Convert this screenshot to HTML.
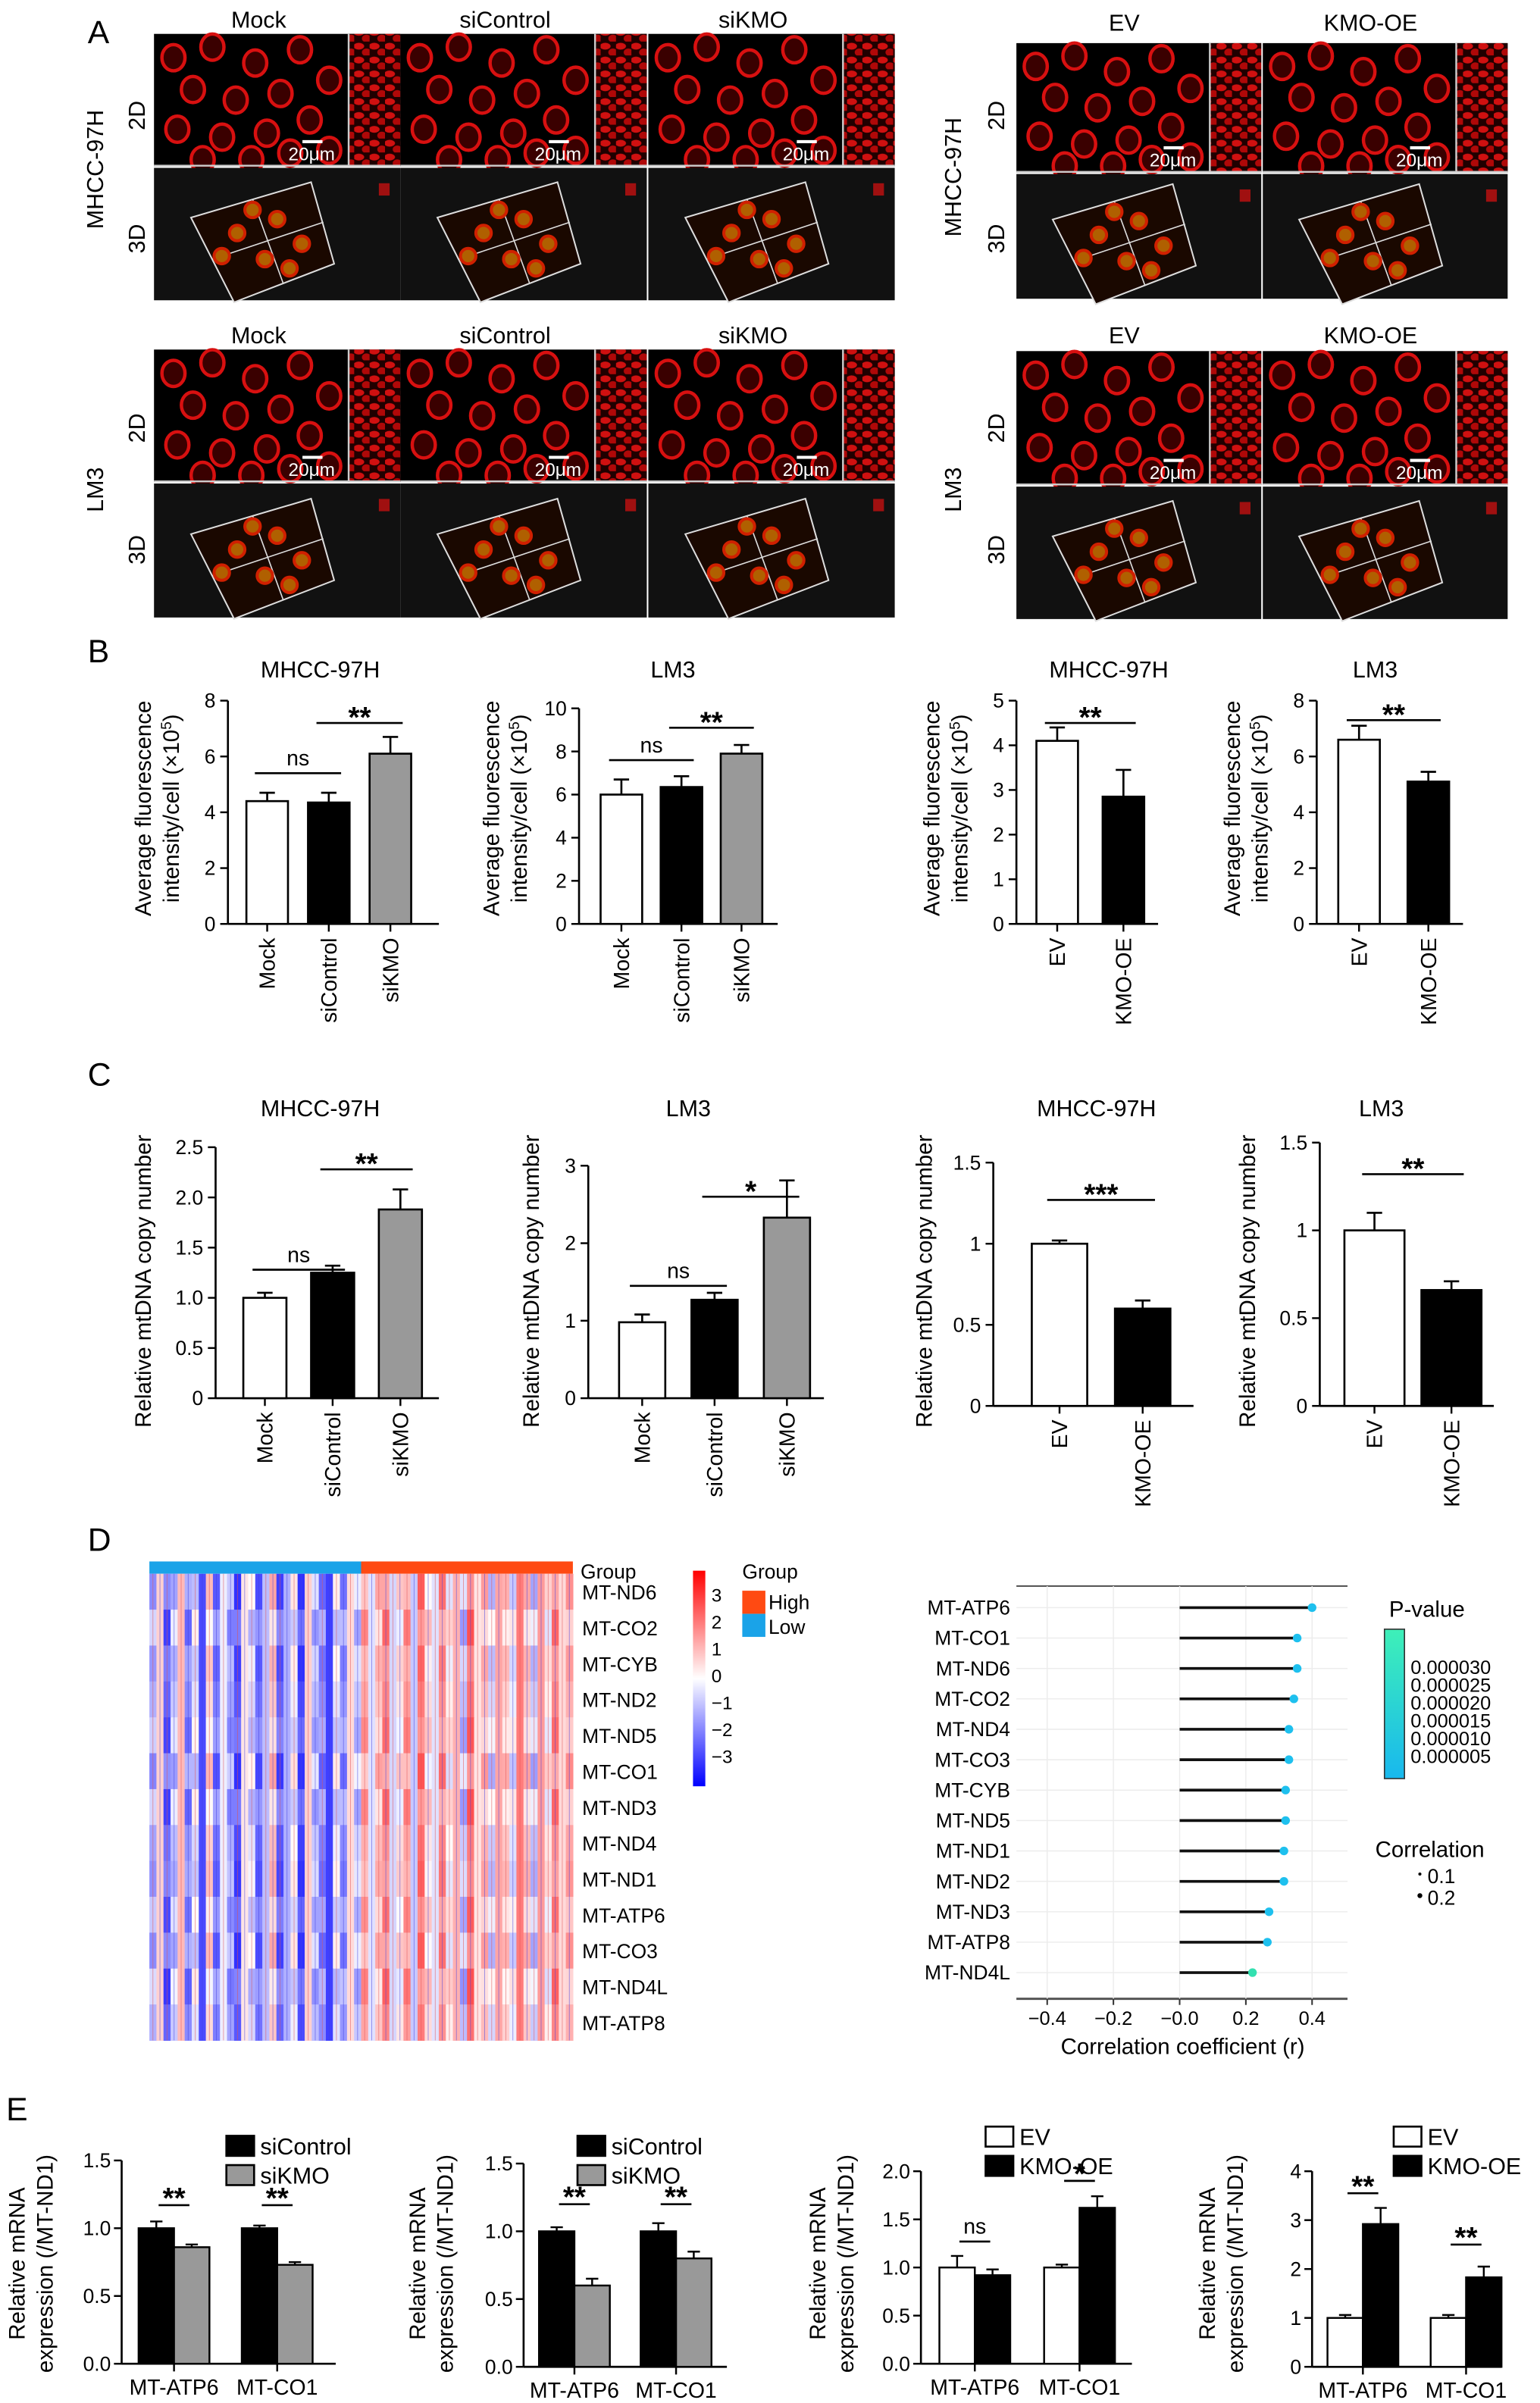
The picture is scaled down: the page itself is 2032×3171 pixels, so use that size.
<!DOCTYPE html>
<html><head><meta charset="utf-8"><style>
html,body{margin:0;padding:0;background:#fff}
svg{display:block}
text{font-family:"Liberation Sans",Arial,sans-serif;fill:#000}
</style></head><body>
<svg id="fig" xmlns="http://www.w3.org/2000/svg" width="2032" height="3171" viewBox="0 0 1000 1560.5" preserveAspectRatio="none">
<defs>
<pattern id="strip" width="10" height="9" patternUnits="userSpaceOnUse">
<rect width="10" height="9" fill="#200000"/>
<ellipse cx="3" cy="3" rx="3.5" ry="2.2" fill="#d01010"/>
<ellipse cx="8" cy="7" rx="3" ry="2.5" fill="#b00808"/>
</pattern>
</defs>
<g id="panelA"></g>
<g id="charts"></g>
<g id="panelD"></g>
<text x="57" y="28" font-size="21">A</text>
<text x="57" y="430" font-size="21">B</text>
<text x="57" y="705" font-size="21">C</text>
<text x="57" y="1007" font-size="21">D</text>
<text x="4" y="1377" font-size="21">E</text>
</svg>
<script>
const NS="http://www.w3.org/2000/svg";
function mk(tag,attrs,parent,txt){const e=document.createElementNS(NS,tag);for(const k in attrs)e.setAttribute(k,attrs[k]);if(txt!==undefined)e.textContent=txt;parent.appendChild(e);return e;}

// ---------- Panel B data ----------
const bCatsSi=["Mock","siControl","siKMO"];
const bCatsOe=["EV","KMO-OE"];
const bMhccSiVals=[4.4,4.35,6.1];
const bMhccSiErr=[0.3,0.35,0.6];
const bLm3SiVals=[6.0,6.35,7.9];
const bLm3SiErr=[0.7,0.5,0.4];
const bMhccOeVals=[4.1,2.85];
const bMhccOeErr=[0.3,0.6];
const bLm3OeVals=[6.6,5.1];
const bLm3OeErr=[0.5,0.35];
const bTicksMhccSi=[0,2,4,6,8];
const bTicksLm3Si=[0,2,4,6,8,10];
const bTicksMhccOe=[0,1,2,3,4,5];
const bTicksLm3Oe=[0,2,4,6,8];
// ---------- Panel C data ----------
const cMhccSiVals=[1.0,1.25,1.88];
const cMhccSiErr=[0.05,0.07,0.2];
const cLm3SiVals=[0.98,1.27,2.33];
const cLm3SiErr=[0.1,0.09,0.48];
const cMhccOeVals=[1.0,0.6];
const cMhccOeErr=[0.02,0.05];
const cLm3OeVals=[1.0,0.66];
const cLm3OeErr=[0.1,0.05];
const cTicksMhccSi=[0,0.5,1.0,1.5,2.0,2.5];
const cTickLabMhccSi=["0","0.5","1.0","1.5","2.0","2.5"];
const cTicksLm3Si=[0,1,2,3];
const cTicksOe=[0,0.5,1,1.5];
const cTickLabOe=["0","0.5","1","1.5"];
// ---------- Panel E data ----------
const eGenes=["MT-ATP6","MT-CO1"];
const eMhccSiA=[1.0,1.0];   const eMhccSiAErr=[0.05,0.02];
const eMhccSiB=[0.86,0.73]; const eMhccSiBErr=[0.02,0.02];
const eLm3SiA=[1.0,1.0];    const eLm3SiAErr=[0.03,0.06];
const eLm3SiB=[0.6,0.8];    const eLm3SiBErr=[0.05,0.05];
const eMhccOeA=[1.0,1.0];   const eMhccOeAErr=[0.12,0.03];
const eMhccOeB=[0.92,1.62]; const eMhccOeBErr=[0.06,0.12];
const eLm3OeA=[1.0,1.0];    const eLm3OeAErr=[0.06,0.06];
const eLm3OeB=[2.92,1.83];  const eLm3OeBErr=[0.33,0.22];
const eTicks15=[0,0.5,1.0,1.5]; const eTickLab15=["0.0","0.5","1.0","1.5"];
const eTicks20=[0,0.5,1.0,1.5,2.0]; const eTickLab20=["0.0","0.5","1.0","1.5","2.0"];
const eTicks4=[0,1,2,3,4];
// ---------- Panel D data ----------
const corrGenes=["MT-ATP6","MT-CO1","MT-ND6","MT-CO2","MT-ND4","MT-CO3","MT-CYB","MT-ND5","MT-ND1","MT-ND2","MT-ND3","MT-ATP8","MT-ND4L"];
const corrVals=[0.40,0.355,0.355,0.345,0.33,0.33,0.32,0.32,0.315,0.315,0.27,0.265,0.22];
const corrTicks=[-0.4,-0.2,0.0,0.2,0.4];
const corrTickLab=["−0.4","−0.2","−0.0","0.2","0.4"];
const heatGenes=["MT-ND6","MT-CO2","MT-CYB","MT-ND2","MT-ND5","MT-CO1","MT-ND3","MT-ND4","MT-ND1","MT-ATP6","MT-CO3","MT-ND4L","MT-ATP8"];
const heatColVals=[-0.6,0.4,-1.2,-0.4,0.6,-0.9,-0.2,-1.4,0.3,-1.0,-0.1,-0.7,-1.3,0.2,-0.3,-1.1,-0.5,0.5,-1.2,-0.6,-0.1,-1.4,0.4,-0.5,-0.9,-1.5,-0.2,-0.8,0.3,-0.4,0.8,-0.2,0.5,1.1,-0.3,0.2,0.9,-0.4,1.2,0.3,-0.2,1.0,0.1,0.7,-0.5,1.3,0.2,0.6,-0.3,0.8,0.4,-0.1,1.2,0.5,-0.4,0.9,0.1,1.1,0.3,0.7];
const heatRowShift=[0.3,-0.3,0.2,0.0,-0.25,0.35,-0.3,0.1,0.25,-0.2,0.3,-0.35,0.0];

const root=document.getElementById('charts');

function ylabel(g,x,yc,lines,fs){lines.forEach((l,i)=>{const t=mk('text',{x:0,y:0,'font-size':fs,'text-anchor':'middle',transform:`translate(${x+i*fs*1.25},${yc}) rotate(-90)`},g);
if(l.includes('^')){const p=l.split('^');t.appendChild(document.createTextNode(p[0]));mk('tspan',{'baseline-shift':'super','font-size':fs*0.65},t,p[1]);t.appendChild(document.createTextNode(p[2]||''));}else t.textContent=l;
});}

function barChart(o){
  const g=mk('g',{},root);
  
  const sy=v=>o.y0-(v/o.max)*(o.y0-o.yTop);
  mk('line',{x1:o.ax,y1:o.y0,x2:o.ax,y2:sy(o.max),stroke:'#000','stroke-width':1.3},g);
  mk('line',{x1:o.ax,y1:o.y0,x2:o.xEnd,y2:o.y0,stroke:'#000','stroke-width':1.3},g);
  o.ticks.forEach((t,i)=>{const y=sy(t);mk('line',{x1:o.ax-5,y1:y,x2:o.ax,y2:y,stroke:'#000','stroke-width':1.2},g);
    const tl=mk('text',{x:o.ax-8,y:y+4.5,'font-size':13,'text-anchor':'end'},g,o.tickLab?o.tickLab[i]:String(t));
    });
  const cx=[];
  o.vals.forEach((v,i)=>{const x=o.x0+i*o.step;const c=x+o.bw/2;cx.push(c);
    const r=mk('rect',{x:x,y:sy(v),width:o.bw,height:o.y0-sy(v),fill:o.fills[i],stroke:'#000','stroke-width':1.3},g);
    
    const ye=sy(v+o.err[i]);mk('line',{x1:c,y1:sy(v),x2:c,y2:ye,stroke:'#000','stroke-width':1.3},g);
    mk('line',{x1:c-5,y1:ye,x2:c+5,y2:ye,stroke:'#000','stroke-width':1.3},g);
    mk('line',{x1:c,y1:o.y0,x2:c,y2:o.y0+5,stroke:'#000','stroke-width':1.2},g);
    const t=mk('text',{x:0,y:0,'font-size':14,'text-anchor':'end',transform:`translate(${c+5},${o.y0+9}) rotate(-90)`},g,o.cats[i]);
    });
  (o.sig||[]).forEach(s=>{const y=sy(s.v);const x1=cx[s.i]-8,x2=cx[s.j]+8;
    mk('line',{x1:x1,y1:y,x2:x2,y2:y,stroke:'#000','stroke-width':1.3},g);
    const t=mk('text',{x:(x1+x2)/2,y:s.l==='ns'?y-5:y+3,'font-size':s.l==='ns'?14:19,'text-anchor':'middle','font-weight':s.l==='ns'?'normal':'bold'},g,s.l);
    });
  const tt=mk('text',{x:o.tx,y:o.ty,'font-size':15,'text-anchor':'middle'},g,o.title);
  
  ylabel(g,o.ylx,o.ylc,o.yl,14.5);
}
const W='#fff',K='#000',G='#999';
const ylB=["Average fluorescence","intensity/cell (×10^5^)"];
barChart({name:'chart-b-mhcc-si',ax:148,y0:600,yTop:455,max:8,ticks:bTicksMhccSi,xEnd:285,x0:160,step:40,bw:27,vals:bMhccSiVals,err:bMhccSiErr,fills:[W,K,G],cats:bCatsSi,title:'MHCC-97H',tx:208,ty:440,ylx:98,ylc:525,yl:ylB,sig:[{i:0,j:1,v:5.4,l:'ns'},{i:1,j:2,v:7.2,l:'**'}]});
barChart({name:'chart-b-lm3-si',ax:376,y0:600,yTop:460,max:10,ticks:bTicksLm3Si,xEnd:505,x0:390,step:39,bw:27,vals:bLm3SiVals,err:bLm3SiErr,fills:[W,K,G],cats:bCatsSi,title:'LM3',tx:437,ty:440,ylx:324,ylc:525,yl:ylB,sig:[{i:0,j:1,v:7.6,l:'ns'},{i:1,j:2,v:9.1,l:'**'}]});
barChart({name:'chart-b-mhcc-oe',ax:660,y0:600,yTop:455,max:5,ticks:bTicksMhccOe,xEnd:752,x0:673,step:43,bw:27,vals:bMhccOeVals,err:bMhccOeErr,fills:[W,K],cats:bCatsOe,title:'MHCC-97H',tx:720,ty:440,ylx:610,ylc:525,yl:ylB,sig:[{i:0,j:1,v:4.5,l:'**'}]});
barChart({name:'chart-b-lm3-oe',ax:855,y0:600,yTop:455,max:8,ticks:bTicksLm3Oe,xEnd:950,x0:869,step:45,bw:27,vals:bLm3OeVals,err:bLm3OeErr,fills:[W,K],cats:bCatsOe,title:'LM3',tx:893,ty:440,ylx:805,ylc:525,yl:ylB,sig:[{i:0,j:1,v:7.3,l:'**'}]});
const ylC=["Relative mtDNA copy number"];
barChart({name:'chart-c-mhcc-si',ax:140,y0:908,yTop:745,max:2.5,ticks:cTicksMhccSi,tickLab:cTickLabMhccSi,xEnd:285,x0:158,step:44,bw:28,vals:cMhccSiVals,err:cMhccSiErr,fills:[W,K,G],cats:bCatsSi,title:'MHCC-97H',tx:208,ty:725,ylx:98,ylc:832,yl:ylC,sig:[{i:0,j:1,v:1.28,l:'ns'},{i:1,j:2,v:2.28,l:'**'}]});
barChart({name:'chart-c-lm3-si',ax:382,y0:908,yTop:757,max:3,ticks:cTicksLm3Si,xEnd:535,x0:402,step:47,bw:30,vals:cLm3SiVals,err:cLm3SiErr,fills:[W,K,G],cats:bCatsSi,title:'LM3',tx:447,ty:725,ylx:350,ylc:832,yl:ylC,sig:[{i:0,j:1,v:1.45,l:'ns'},{i:1,j:2,v:2.6,l:'*'}]});
barChart({name:'chart-c-mhcc-oe',ax:645,y0:913,yTop:755,max:1.5,ticks:cTicksOe,tickLab:cTickLabOe,xEnd:775,x0:670,step:54,bw:36,vals:cMhccOeVals,err:cMhccOeErr,fills:[W,K],cats:bCatsOe,title:'MHCC-97H',tx:712,ty:725,ylx:605,ylc:832,yl:ylC,sig:[{i:0,j:1,v:1.27,l:'***'}]});
barChart({name:'chart-c-lm3-oe',ax:857,y0:913,yTop:742,max:1.5,ticks:cTicksOe,tickLab:cTickLabOe,xEnd:970,x0:873,step:50,bw:39,vals:cLm3OeVals,err:cLm3OeErr,fills:[W,K],cats:bCatsOe,title:'LM3',tx:897,ty:725,ylx:815,ylc:832,yl:ylC,sig:[{i:0,j:1,v:1.32,l:'**'}]});

function groupChart(o){
  const g=mk('g',{},root);
  
  const sy=v=>o.y0-(v/o.max)*(o.y0-o.yTop);
  mk('line',{x1:o.ax,y1:o.y0,x2:o.ax,y2:sy(o.max),stroke:'#000','stroke-width':1.3},g);
  mk('line',{x1:o.ax,y1:o.y0,x2:o.xEnd,y2:o.y0,stroke:'#000','stroke-width':1.3},g);
  o.ticks.forEach((t,i)=>{const y=sy(t);mk('line',{x1:o.ax-5,y1:y,x2:o.ax,y2:y,stroke:'#000','stroke-width':1.2},g);
    const tl=mk('text',{x:o.ax-7,y:y+4.5,'font-size':13,'text-anchor':'end'},g,o.tickLab?o.tickLab[i]:String(t));
    });
  eGenes.forEach((gn,i)=>{const gx=o.x0+i*o.gstep;
    [[o.A,o.Ae,o.fA,0],[o.B,o.Be,o.fB,1]].forEach(([vals,errs,f,k])=>{const v=vals[i];const x=gx+k*o.bw;const c=x+o.bw/2;
      const r=mk('rect',{x:x,y:sy(v),width:o.bw,height:o.y0-sy(v),fill:f,stroke:'#000','stroke-width':1.2},g);
      
      const ye=sy(v+errs[i]);mk('line',{x1:c,y1:sy(v),x2:c,y2:ye,stroke:'#000','stroke-width':1.2},g);
      mk('line',{x1:c-4,y1:ye,x2:c+4,y2:ye,stroke:'#000','stroke-width':1.2},g);});
    const cc=gx+o.bw;mk('line',{x1:cc,y1:o.y0,x2:cc,y2:o.y0+5,stroke:'#000','stroke-width':1.2},g);
    const t=mk('text',{x:cc,y:o.y0+20,'font-size':14,'text-anchor':'middle'},g,gn);
    
    const s=o.sig[i];const yl=sy(s.v);mk('line',{x1:cc-10,y1:yl,x2:cc+10,y2:yl,stroke:'#000','stroke-width':1.3},g);
    const st=mk('text',{x:cc,y:s.l==='ns'?yl-5:yl+2,'font-size':s.l==='ns'?14:19,'text-anchor':'middle','font-weight':s.l==='ns'?'normal':'bold'},g,s.l);
    });
  o.leg.forEach((l,k)=>{const y=o.ly+k*19;mk('rect',{x:o.lx,y:y-11,width:18,height:13,fill:k?o.fB:o.fA,stroke:'#000','stroke-width':1.3},g);
    const t=mk('text',{x:o.lx+22,y:y+1,'font-size':15},g,l);});
  const tt=mk('text',{x:o.tx,y:1373,'font-size':15,'text-anchor':'middle'},g,o.title);
  
  ylabel(g,o.ylx,1470,["Relative mRNA","expression (/MT-ND1)"],14.5);
}
groupChart({name:'chart-e-mhcc-si',ax:79,y0:1535,yTop:1403,max:1.5,ticks:eTicks15,tickLab:eTickLab15,xEnd:218,x0:90,gstep:67,bw:23,A:eMhccSiA,Ae:eMhccSiAErr,B:eMhccSiB,Be:eMhccSiBErr,fA:K,fB:G,leg:['siControl','siKMO'],lx:147,ly:1398,tx:155,ylx:16,sig:[{v:1.17,l:'**'},{v:1.17,l:'**'}]});
groupChart({name:'chart-e-lm3-si',ax:340,y0:1537,yTop:1405,max:1.5,ticks:eTicks15,tickLab:eTickLab15,xEnd:472,x0:350,gstep:66,bw:23,A:eLm3SiA,Ae:eLm3SiAErr,B:eLm3SiB,Be:eLm3SiBErr,fA:K,fB:G,leg:['siControl','siKMO'],lx:375,ly:1398,tx:418,ylx:276,sig:[{v:1.2,l:'**'},{v:1.2,l:'**'}]});
groupChart({name:'chart-e-mhcc-oe',ax:598,y0:1535,yTop:1410,max:2.0,ticks:eTicks20,tickLab:eTickLab20,xEnd:735,x0:610,gstep:68,bw:23,A:eMhccOeA,Ae:eMhccOeAErr,B:eMhccOeB,Be:eMhccOeBErr,fA:W,fB:K,leg:['EV','KMO-OE'],lx:640,ly:1392,tx:670,ylx:536,sig:[{v:1.27,l:'ns'},{v:1.9,l:'*'}]});
groupChart({name:'chart-e-lm3-oe',ax:852,y0:1537,yTop:1410,max:4,ticks:eTicks4,xEnd:975,x0:862,gstep:67,bw:23,A:eLm3OeA,Ae:eLm3OeAErr,B:eLm3OeB,Be:eLm3OeBErr,fA:W,fB:K,leg:['EV','KMO-OE'],lx:905,ly:1392,tx:908,ylx:789,sig:[{v:3.55,l:'**'},{v:2.5,l:'**'}]});

// ---------- Panel D ----------
const D=document.getElementById('panelD');
(function(){
  const hx=97,hw=275,hy=1022,hh=303;
  const gbl=mk('rect',{x:hx,y:1014,width:hw/2,height:8,fill:'#1aa3e8'},D);
  const gbh=mk('rect',{x:hx+hw/2,y:1014,width:hw/2,height:8,fill:'#ff4a12'},D);
  const cw=hw/heatColVals.length, rh=hh/heatGenes.length;
  const col=v=>{v=Math.max(-1.6,Math.min(1.6,v));const t=Math.abs(v)/1.6;
    return v<0?`rgb(${Math.round(250-200*t)},${Math.round(250-200*t)},255)`:`rgb(255,${Math.round(250-170*t)},${Math.round(250-170*t)})`;};
  const hm=mk('g',{},D);
  heatGenes.forEach((gn,r)=>{heatColVals.forEach((v,c)=>{mk('rect',{x:hx+c*cw,y:hy+r*rh,width:cw+0.3,height:rh+0.3,fill:col(v+heatRowShift[r]*((c%3)-1))},hm);});
    const t=mk('text',{x:378,y:hy+r*rh+rh/2+5,'font-size':13},D,gn);});
  heatColVals.forEach((v,c)=>{mk('line',{x1:hx+c*cw+cw*0.5,y1:hy,x2:hx+c*cw+cw*0.5,y2:hy+hh,stroke:c%2?'#4040e0':'#e05050','stroke-width':0.45,opacity:0.55},hm);});
  mk('text',{x:377,y:1025,'font-size':13},D,'Group');
  const defs=mk('defs',{},D);const lg=mk('linearGradient',{id:'cb',x1:0,y1:0,x2:0,y2:1},defs);
  mk('stop',{offset:'0','stop-color':'#ff0000'},lg);mk('stop',{offset:'0.5','stop-color':'#ffffff'},lg);mk('stop',{offset:'1','stop-color':'#0000ff'},lg);
  const cb=mk('rect',{x:450,y:1020,width:8,height:140,fill:'url(#cb)'},D);
  ["3","2","1","0","−1","−2","−3"].forEach((s,i)=>mk('text',{x:462,y:1040+i*17.5,'font-size':12},D,s));
  mk('text',{x:482,y:1025,'font-size':13},D,'Group');
  mk('rect',{x:482,y:1033,width:15,height:15,fill:'#ff4a12'},D);mk('rect',{x:482,y:1048,width:15,height:15,fill:'#1aa3e8'},D);
  mk('text',{x:499,y:1045,'font-size':13},D,'High');
  mk('text',{x:499,y:1061,'font-size':13},D,'Low');
  const fx=660,fy=1030,fw=215,fh=268;
  const sx=v=>766+v*(852-680)/0.8;
  const lp=mk('g',{},D);
  mk('line',{x1:fx,y1:fy,x2:fx+fw,y2:fy,stroke:'#555','stroke-width':1},lp);
  mk('line',{x1:fx,y1:fy+fh,x2:fx+fw,y2:fy+fh,stroke:'#555','stroke-width':1.5},lp);
  corrTicks.forEach((t,i)=>{const x=sx(t);mk('line',{x1:x,y1:fy,x2:x,y2:fy+fh,stroke:'#ececec','stroke-width':0.7},lp);
    mk('line',{x1:x,y1:fy+fh,x2:x,y2:fy+fh+4,stroke:'#333'},lp);
    const tl=mk('text',{x:x,y:fy+fh+17,'font-size':12.5,'text-anchor':'middle',fill:'#222'},lp,corrTickLab[i]);});
  const step=(1281-1044)/(corrGenes.length-1);
  corrGenes.forEach((gn,i)=>{const y=1044+i*step;
    mk('line',{x1:fx,y1:y,x2:fx+fw,y2:y,stroke:'#ececec','stroke-width':0.7},lp);
    const l=mk('line',{x1:sx(0),y1:y,x2:sx(corrVals[i]),y2:y,stroke:'#111','stroke-width':1.8},lp);
    const d=mk('circle',{cx:sx(corrVals[i]),cy:y,r:2.8,fill:i===12?'#33e0b0':'#1ec0ee'},lp);
    const t=mk('text',{x:fx-4,y:y+4.5,'font-size':13,'text-anchor':'end'},lp,gn);});
  const xt=mk('text',{x:768,y:1334,'font-size':14.5,'text-anchor':'middle'},lp,'Correlation coefficient (r)');
  const lg2=mk('linearGradient',{id:'pv',x1:0,y1:0,x2:0,y2:1},defs);mk('stop',{offset:'0','stop-color':'#3ef0b8'},lg2);mk('stop',{offset:'1','stop-color':'#18b8ee'},lg2);
  mk('text',{x:902,y:1050,'font-size':14.5},D,'P-value');
  mk('rect',{x:899,y:1058,width:13,height:97,fill:'url(#pv)',stroke:'#333','stroke-width':0.8},D);
  ["0.000030","0.000025","0.000020","0.000015","0.000010","0.000005"].forEach((s,i)=>mk('text',{x:916,y:1087+i*11.6,'font-size':12.5},D,s));
  mk('text',{x:893,y:1206,'font-size':14.5},D,'Correlation');
  mk('circle',{cx:922,cy:1217,r:1},D);mk('circle',{cx:922,cy:1231,r:1.6},D);
  mk('text',{x:927,y:1223,'font-size':13},D,'0.1');mk('text',{x:927,y:1237,'font-size':13},D,'0.2');
})();

// ---------- Panel A ----------
const A=document.getElementById('panelA');
const cellOffsets=[[0.1,0.18],[0.3,0.1],[0.52,0.22],[0.75,0.12],[0.9,0.35],[0.2,0.42],[0.42,0.5],[0.65,0.45],[0.12,0.72],[0.35,0.78],[0.58,0.75],[0.8,0.65],[0.9,0.88],[0.25,0.95],[0.5,0.95],[0.7,0.9]];
function micro(x,y,w,h2,h3,label,rowName){
  const g=mk('g',{},A);
  const mw=w*0.79;
  mk('rect',{x:x,y:y,width:w,height:h2,fill:'#000'},g);
  cellOffsets.forEach(([a,b])=>{mk('ellipse',{cx:x+a*mw,cy:y+b*h2,rx:7.5,ry:8.5,fill:'#3a0000',stroke:'#d81010','stroke-width':2.2},g);});
  mk('rect',{x:x+mw,y:y,width:w-mw,height:h2,fill:'url(#strip)'},g);
  mk('line',{x1:x+mw,y1:y,x2:x+mw,y2:y+h2,stroke:'#ccc','stroke-width':1.2},g);
  mk('rect',{x:x,y:y+h2-1,width:w,height:1.2,fill:'#ccc'},g);
  mk('line',{x1:x+mw-30,y1:y+h2-16,x2:x+mw-17,y2:y+h2-16,stroke:'#fff','stroke-width':2},g);
  mk('text',{x:x+mw-24,y:y+h2-4,'font-size':12,'text-anchor':'middle',style:'fill:#fff'},g,'20μm');
  const y3=y+h2+1;mk('rect',{x:x,y:y3,width:w,height:h3,fill:'#111'},g);
  const cx=x+w*0.45,cy=y3+h3*0.55;
  mk('polygon',{points:`${cx-48},${cy-15} ${cx+30},${cy-38} ${cx+45},${cy+15} ${cx-20},${cy+40}`,fill:'#1a0800',stroke:'#ddd','stroke-width':1},g);
  mk('line',{x1:cx-8,y1:cy-27,x2:cx+12,y2:cy+28,stroke:'#ddd','stroke-width':0.8},g);
  mk('line',{x1:cx-34,y1:cy+12,x2:cx+38,y2:cy-12,stroke:'#ddd','stroke-width':0.8},g);
  [[-18,-5],[8,-14],[0,12],[24,2],[-28,10],[16,18],[-8,-20]].forEach(([a,b])=>mk('circle',{cx:cx+a,cy:cy+b,r:5,fill:'#b06000',stroke:'#d02000','stroke-width':2},g));
  mk('rect',{x:x+w-14,y:y3+10,width:7,height:8,fill:'#a01010'},g);
}
function header(x,y,label){const t=mk('text',{x:x,y:y,'font-size':15,'text-anchor':'middle'},A,label);}
function rowLab(x,y,label,fs){const t=mk('text',{x:0,y:0,'font-size':fs,'text-anchor':'middle',transform:`translate(${x},${y}) rotate(-90)`},A,label);}
[["Mock",100],["siControl",260],["siKMO",421]].forEach(([l,x])=>{micro(x,22,160,86,86,l,'mhcc');micro(x,227,160,86,87,l,'lm3');header(x+68,18,l);header(x+68,223,l);});
[["EV",660],["KMO-OE",820]].forEach(([l,x])=>{micro(x,28,159,84,81,l,'mhcc-oe');micro(x,228,159,87,86,l,'lm3-oe');header(x+70,20,l);header(x+70,223,l);});
rowLab(94,75,'2D',15);rowLab(94,155,'3D',15);rowLab(67,110,'MHCC-97H',15);
rowLab(94,278,'2D',15);rowLab(94,357,'3D',15);rowLab(67,318,'LM3',15);
rowLab(652,75,'2D',15);rowLab(652,155,'3D',15);rowLab(624,115,'MHCC-97H',15);
rowLab(652,278,'2D',15);rowLab(652,357,'3D',15);rowLab(624,318,'LM3',15);
</script>
</body></html>
